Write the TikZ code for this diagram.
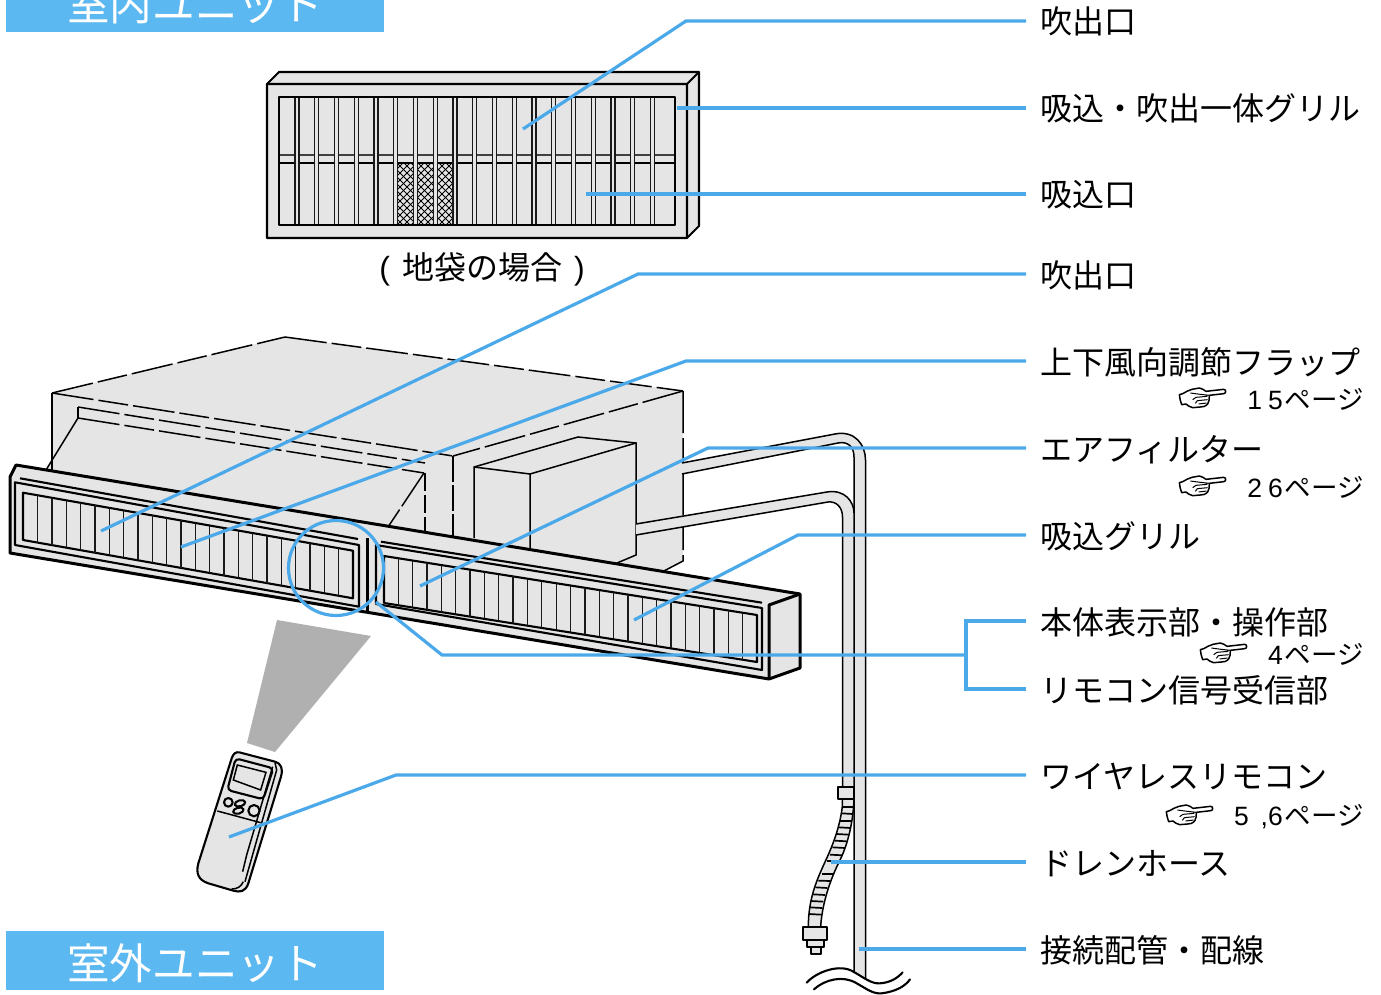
\documentclass[tikz,border=0pt]{standalone}
\usepackage{fontspec}
\setmainfont{Noto Sans CJK JP}
\newfontfamily\latinf{Liberation Sans}
\definecolor{leader}{HTML}{4BA9EA}
\definecolor{banner}{HTML}{5CB8F0}
\definecolor{body}{HTML}{E5E5E5}
\tikzset{
  lead/.style={draw=leader,line width=3.2pt,line join=miter},
  ink/.style={draw=black,line width=1.5pt},
  thick ink/.style={draw=black,line width=3pt,line join=round},
  mid ink/.style={draw=black,line width=2.1pt,line join=round},
  longdash/.style={draw=black,line width=1.5pt,dash pattern=on 42pt off 5pt on 30pt off 5pt},
  lab/.style={anchor=west,inner xsep=14.5pt,inner ysep=0pt,outer sep=0pt,text height=30pt,text depth=4pt,font=\fontsize{32}{32}\selectfont},
  pageref/.style={anchor=east,inner sep=0pt,font=\fontsize{26.5}{27}\selectfont},
  unitbar/.style={fill=banner,text=white,inner sep=0pt,minimum width=378pt,minimum height=59pt,font=\fontsize{42.6}{43}\selectfont},
  slat/.style={draw=black!90,line width=1.3pt},
  handicon/.pic={
    \begin{scope}[x=.3333pt,y=-.3333pt]
    \draw[fill=white,ink,line join=round] (22,32) -- (32,29) .. controls (42,24) and (50,18) .. (60,16) -- (82,12) .. controls (90,13) and (96,18) .. (102,22) -- (155,16) .. controls (163,16) and (163,29) .. (155,29) -- (112,34) .. controls (112,45) and (112,52) .. (107,60) .. controls (100,68) and (92,69) .. (85,69) -- (62,71) .. controls (52,70) and (47,63) .. (42,60) -- (29,62) .. controls (25,52) and (23,42) .. (22,32) -- cycle;
    \draw[black,line width=1pt] (55,27) -- (85,31) -- (112,34) (72,40) -- (106,37) (76,50) -- (107,47) (80,60) -- (104,57) (72,40) -- (62,47) (76,50) -- (70,58);
    \end{scope}
  }
}
\begin{document}
\begin{tikzpicture}[x=1pt,y=-1pt]
\useasboundingbox (0,0) rectangle (1381,995);
% ---- banners
\node[unitbar] (indoor) at (195,2.5) {\raisebox{-18.5pt}[0pt][0pt]{室内ユニット}};
\node[unitbar] (outdoor) at (195,960.5) {\raisebox{-18.5pt}[0pt][0pt]{室外ユニット}};
% ---- upper unit
\draw[fill=body,mid ink] (267,84) -- (279,72) -- (699,72) -- (699,226) -- (687,238) -- (267,238) -- cycle;
\draw[mid ink] (267,84) -- (687,84) -- (699,72) (687,84) -- (687,238);
\begin{scope}
\clip (397.7,163.3) rectangle (413.3,225) (417.7,163.3) rectangle (433.3,225) (437.3,163.3) rectangle (452.3,225);
\foreach \d in {320,327,...,460}{
  \draw[black,line width=.9pt] (\d,163) -- (\d+62,225);
  \draw[black,line width=.9pt] (\d+62,163) -- (\d,225);
}
\end{scope}
\draw[black!75,line width=2pt] (279,155) -- (675,155);
\draw[ink] (279,163) -- (675,163);
\foreach \i in {0,...,18}{
  \pgfmathsetmacro\xa{295+19.75*\i}
  \fill[body] (\xa,97) rectangle (\xa+4,225);
  \draw[slat] (\xa,97) -- (\xa,225) (\xa+4,97) -- (\xa+4,225);
}
\draw[mid ink] (279,97) rectangle (675,225);
\node[inner sep=0pt,font=\fontsize{32}{32}\selectfont] (caption) at (482,269) {{\latinf(}\hspace{12pt}地袋の場合\hspace{12pt}{\latinf)}};
% ---- main unit body
\fill[body] (52,393) -- (285,337) -- (683,391) -- (683,561) -- (662,572) -- (300,560) -- (46,470) -- (52,460) -- cycle;
\draw[longdash] (52,393) -- (285,337);
\draw[longdash] (285,337) -- (683,391);
\draw[longdash] (683,391) -- (453,456);
\draw[longdash] (52,393) -- (453,456);
\draw[ink] (52,393) -- (52,470);
\draw[longdash] (683,391) -- (683,561) -- (662,572);
\draw[longdash] (78,407) -- (425,463);
\draw[ink] (78,407) -- (78,418);
\draw[longdash] (78,418) -- (424,473);
\draw[ink] (78,418) -- (46,470);
\draw[ink,dash pattern=on 40pt off 4pt] (424,473) -- (386,530);
\draw[mid ink] (386,530) -- (372,537);
\draw[ink,dash pattern=on 18pt off 4pt] (425,473) -- (425,533);
\draw[ink,dash pattern=on 26pt off 3pt] (453,456) -- (453,540);
% box
\draw[fill=body,ink] (474,538) -- (474,467) -- (578,437) -- (636,443) -- (636,555) -- (617,563);
\draw[ink] (474,467) -- (530,474) -- (636,443) (530,474) -- (530,548);
% ---- pipes
\fill[body] (682,463) -- (835,434) .. controls (855,430) and (865.5,445) .. (865.5,460) -- (865.5,978) -- (854,973) -- (854,457) .. controls (854,447) and (848,441) .. (838,443) -- (682,474) -- cycle;
\draw[ink] (682,463) -- (835,434) .. controls (855,430) and (865.5,445) .. (865.5,460) -- (865.5,978);
\draw[ink] (682,474) -- (838,443) .. controls (848,441) and (854,447) .. (854,457) -- (854,973);
\fill[body] (636,524) -- (827,492) .. controls (845,489) and (854,502) .. (854,513) -- (854,790) -- (842.5,790) -- (842.5,517) .. controls (842.5,507) and (836,501) .. (828,502) -- (636,535) -- cycle;
\draw[ink] (636,524) -- (827,492) .. controls (845,489) and (854,502) .. (854,513) -- (854,787);
\draw[ink] (636,535) -- (828,502) .. controls (836,501) and (842.5,507) .. (842.5,517) -- (842.5,787);
% ---- drain hose and fittings (coordinates of a 3x enlargement)
\begin{scope}[shift={(790,770)},x=.3333pt,y=-.3333pt]
\fill[body] (157,87) -- (157,110) .. controls (152,150) and (140,200) .. (110,265) .. controls (85,320) and (55,380) .. (55,470) -- (92,470) .. controls (95,420) and (110,350) .. (150,270) .. controls (175,220) and (190,150) .. (192,87) -- cycle;
\draw[ink] (157,87) -- (157,110) .. controls (152,150) and (140,200) .. (110,265) .. controls (85,320) and (55,380) .. (55,470);
\draw[ink] (192,87) .. controls (190,150) and (175,220) .. (150,270) .. controls (110,350) and (95,420) .. (92,470);
\foreach \a/\b/\c/\d in {157/110/190/110,155/130/188/132,150/152/185/152,146/172/182/174,140/192/176/194,135/212/170/214,127/232/165/234,120/254/158/256,110/273/149/273,95/312/130/312,85/332/120/333,76/352/112/354,68/373/105/375,62/393/100/395,58/412/96/414,56/432/94/434}
  \draw[black,line width=1.7pt] (\a,\b) -- (\c,\d);
\draw[fill=body,mid ink] (143,50) rectangle (192,87);
\draw[fill=body,mid ink] (40,472) rectangle (112,510);
\draw[fill=body,mid ink] (52,510) rectangle (102,530);
\draw[fill=body,mid ink] (62,530) rectangle (92,552);
\fill[white] (192,605) .. controls (215,620) and (240,640) .. (270,640) -- (360,628) -- (300,680) -- (170,620) -- cycle;
\draw[mid ink,line cap=round] (50,638) .. controls (80,605) and (150,580) .. (190,605) .. controls (225,625) and (245,642) .. (270,640) .. controls (300,638) and (322,625) .. (338,607);
\draw[mid ink,line cap=round] (72,658) .. controls (105,628) and (160,615) .. (200,640) .. controls (235,660) and (250,672) .. (275,670) .. controls (315,665) and (345,650) .. (360,628);
\end{scope}
% ---- front panel
\draw[fill=body,thick ink] (16,465) -- (800,594) -- (800,668) -- (769,679) -- (10,553) -- (10,477) -- cycle;
\draw[thick ink] (800,594) -- (769,605) -- (769,679);
\draw[mid ink] (20,478.3) -- (358,539);
\draw[mid ink] (15,482.3) -- (359,545) -- (359,606.7) -- (15,545) -- cycle;
\draw[mid ink] (23,492.7) -- (353,550.7) -- (353,598.3) -- (23,540) -- cycle;
\draw[thick ink] (367,538) -- (367,613);
\draw[mid ink] (381,541.7) -- (762,602.7);
\draw[mid ink] (376,545) -- (762,608) -- (762,670) -- (376,604) -- cycle;
\draw[mid ink] (384,556) -- (757,615) -- (757,662) -- (384,603) -- cycle;
\foreach \i in {0,...,21}{
  \pgfmathsetmacro\xa{37.7+14.33*\i}
  \pgfmathsetmacro\ya{492.7+(\xa-23)*.1757}
  \pgfmathsetmacro\yb{540+(\xa-23)*.1767}
  \draw[slat] (\xa,\ya) -- (\xa,\yb);
}
\foreach \i in {0,...,24}{
  \pgfmathsetmacro\xa{398.3+14.35*\i}
  \pgfmathsetmacro\ya{556+(\xa-384)*.1582}
  \pgfmathsetmacro\yb{603+(\xa-384)*.1582}
  \draw[slat] (\xa,\ya) -- (\xa,\yb);
}
% ---- remote beam and remote (coordinates of a 3x enlargement)
\fill[black!31] (277,620) -- (371,636) -- (275,752) -- (247,743) -- cycle;
\begin{scope}[shift={(180,740)},x=.3333pt,y=-.3333pt]
\draw[fill=body,mid ink] (178,37) -- (285,65) .. controls (303,70) and (310,85) .. (303,110) -- (205,430) .. controls (197,455) and (180,458) .. (160,452) -- (85,430) .. controls (55,420) and (47,400) .. (55,370) -- (155,55) .. controls (160,40) and (168,35) .. (178,37) -- cycle;
\draw[ink] (285,68) -- (290,90) -- (195,425) (278,80) -- (200,345) -- (188,395) (190,425) .. controls (183,440) and (172,447) .. (155,447);
\draw[mid ink,rounded corners=4pt] (167,55) -- (280,85) -- (250,178) -- (142,150) -- cycle;
\draw[ink] (172,75) -- (258,97) -- (242,150) -- (160,120) -- cycle;
\draw[mid ink] (145,187) circle (13);
\draw[mid ink,rotate around={15:(180,190)}] (180,190) ellipse (16 and 9);
\draw[mid ink,rotate around={15:(175,212)}] (175,212) ellipse (16 and 9);
\draw[mid ink] (222,212) circle (17);
\draw[ink] (112,213) -- (242,248);
\end{scope}
% ---- labels
\node[lab] (l1) at (1026,21) {吹出口};
\node[lab] (l2) at (1026,108) {吸込・吹出一体グリル};
\node[lab] (l3) at (1026,194) {吸込口};
\node[lab] (l4) at (1026,274) {吹出口};
\node[lab] (l5) at (1026,361) {上下風向調節フラップ};
\node[lab] (l6) at (1026,448) {エアフィルター};
\node[lab] (l7) at (1026,535) {吸込グリル};
\node[lab] (l8) at (1026,621) {本体表示部・操作部};
\node[lab] (l9) at (1026,689) {リモコン信号受信部};
\node[lab] (l10) at (1026,775) {ワイヤレスリモコン};
\node[lab] (l11) at (1026,862) {ドレンホース};
\node[lab] (l12) at (1026,949) {接続配管・配線};
\node[pageref] (p1) at (1364,399.5) {{\latinf 1\hspace{6pt}5}\hspace{2pt}ページ};
\node[pageref] (p2) at (1364,487.5) {{\latinf 2\hspace{6pt}6}\hspace{2pt}ページ};
\node[pageref] (p3) at (1364,654.5) {{\latinf 4}\hspace{2pt}ページ};
\node[pageref] (p4) at (1364,816.5) {{\latinf 5\hspace{12pt},6}\hspace{2pt}ページ};
\pic at (1172,384) {handicon};
\pic at (1172,472) {handicon};
\pic at (1193,639) {handicon};
\pic at (1159,801) {handicon};
% ---- leaders
\coordinate (a1) at (523,129); \coordinate (k1) at (686,21);
\coordinate (a2) at (677,108);
\coordinate (a3) at (586,194);
\coordinate (a4) at (101,531); \coordinate (k4) at (638,274);
\coordinate (a5) at (181,547); \coordinate (k5) at (686,361);
\coordinate (a6) at (420,586); \coordinate (k6) at (708,448);
\coordinate (a7) at (634,620); \coordinate (k7) at (798,535);
\coordinate (a8) at (376,602); \coordinate (k8) at (442,655); \coordinate (j8) at (966,655);
\coordinate (a10) at (229,837); \coordinate (k10) at (396,775);
\coordinate (a11) at (831,862);
\coordinate (a12) at (859,949);
\draw[lead] (a1) -- (k1) -- (l1.west);
\draw[lead] (a2) -- (l2.west);
\draw[lead] (a3) -- (l3.west);
\draw[lead] (a4) -- (k4) -- (l4.west);
\draw[lead] (a5) -- (k5) -- (l5.west);
\draw[lead] (a6) -- (k6) -- (l6.west);
\draw[lead] (a7) -- (k7) -- (l7.west);
\draw[lead] (336,568) circle (47.5);
\draw[lead] (a8) -- (k8) -- (j8);
\draw[lead] (l8.west) -- (966,621) -- (966,689) -- (l9.west);
\draw[lead] (a10) -- (k10) -- (l10.west);
\draw[lead] (a11) -- (l11.west);
\draw[lead] (a12) -- (l12.west);
\end{tikzpicture}
\end{document}
